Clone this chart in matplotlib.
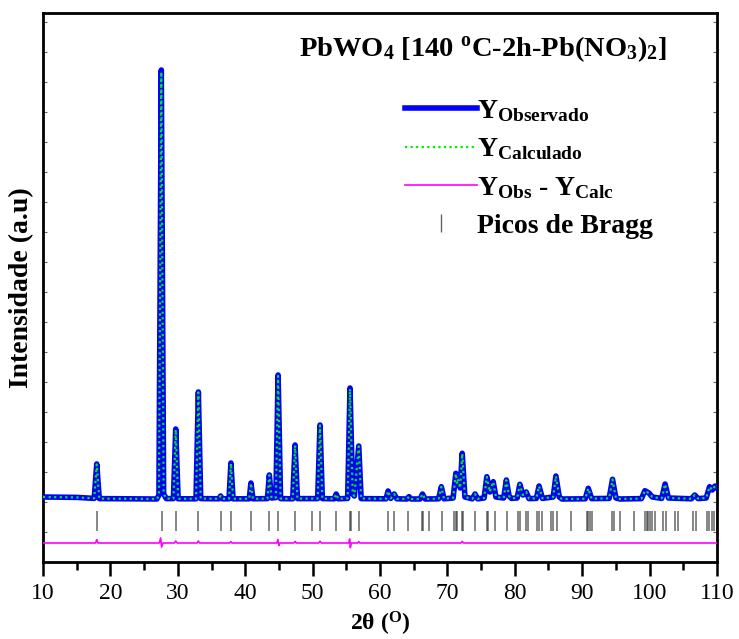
import matplotlib
matplotlib.use("Agg")
import matplotlib.pyplot as plt
from matplotlib.lines import Line2D
from matplotlib.ticker import MultipleLocator, NullFormatter

plt.rcParams['font.family'] = ['Liberation Serif', 'DejaVu Serif']
plt.rcParams['mathtext.fontset'] = 'custom'
plt.rcParams['mathtext.rm'] = 'Liberation Serif:bold'
plt.rcParams['mathtext.it'] = 'Liberation Serif:italic:bold'
plt.rcParams['mathtext.bf'] = 'Liberation Serif:bold'

# ---- data ----
two_theta_obs = [10, 15, 17.6, 17.97, 18.35, 26.9, 27.2, 27.55, 27.9, 28.3, 29.35, 29.69, 30.05,
                 32.7, 33.05, 33.4, 36.1, 36.35, 36.6, 37.6, 37.88, 38.2, 40.6, 40.85, 41.15,
                 43.3, 43.58, 43.9, 44.55, 44.88, 45.25, 47.05, 47.4, 47.75, 50.75, 51.1, 51.45,
                 53.2, 53.5, 53.8, 55.2, 55.55, 55.95, 56.2, 56.85, 57.2, 60.9, 61.2, 61.6, 62.1,
                 62.5, 64.0, 64.3, 64.6, 65.95, 66.3, 66.7, 68.7, 69.1, 69.5, 70.85, 71.25, 71.45,
                 71.6, 71.9, 72.2, 72.6, 73.7, 74.1, 74.5, 75.45, 75.85, 76.3, 76.8, 77.2, 78.35,
                 78.75, 79.15, 79.5, 80.35, 80.75, 81.2, 81.7, 82.1, 83.2, 83.6, 84.1, 85.7, 86.1,
                 86.6, 87.0, 90.45, 90.9, 91.4, 94.0, 94.5, 95.0, 95.6, 98.8, 99.3, 99.9, 100.4,
                 101.8, 102.3, 102.8, 106.2, 106.7, 107.2, 108.4, 108.9, 109.3, 109.7, 110]
y_observado = [250, 230, 180, 1900, 170, 150, 350, 21600, 400, 170, 170, 3650, 160,
               160, 5500, 170, 160, 300, 160, 160, 1950, 160, 160, 950, 160,
               170, 1350, 200, 220, 6350, 170, 160, 2850, 170, 170, 3850, 170,
               160, 400, 160, 180, 5700, 400, 300, 2800, 170, 160, 550, 180, 400,
               160, 150, 270, 150, 150, 400, 150, 160, 765, 160, 200, 1435, 900,
               1100, 700, 2435, 250, 160, 400, 160, 200, 1265, 500, 1015, 250, 200,
               1100, 300, 180, 200, 885, 350, 500, 170, 180, 800, 180, 250, 1300,
               250, 150, 160, 685, 170, 180, 1135, 200, 150, 170, 565, 450, 250,
               180, 900, 200, 160, 350, 170, 200, 765, 600, 800, 700]
y_calculado = [250, 230, 180, 1880, 170, 150, 350, 21500, 400, 170, 170, 3620, 160,
               160, 5480, 170, 160, 300, 160, 160, 1930, 160, 160, 940, 160,
               170, 1340, 200, 220, 6300, 170, 160, 2830, 170, 170, 3830, 170,
               160, 400, 160, 180, 5650, 400, 300, 2780, 170, 160, 550, 180, 400,
               160, 150, 270, 150, 150, 400, 150, 160, 760, 160, 200, 1420, 900,
               1100, 700, 2420, 250, 160, 400, 160, 200, 1260, 500, 1010, 250, 200,
               1090, 300, 180, 200, 880, 350, 500, 170, 180, 795, 180, 250, 1290,
               250, 150, 160, 680, 170, 180, 1130, 200, 150, 170, 560, 450, 250,
               180, 895, 200, 160, 350, 170, 200, 760, 600, 795, 700]

two_theta_diff = [10, 17.8, 17.97, 18.15, 27.25, 27.45, 27.6, 27.8, 29.5, 29.69, 29.9,
                  32.85, 33.05, 33.25, 37.7, 37.88, 38.05, 44.7, 44.85, 45.0, 45.15,
                  47.2, 47.4, 47.6, 50.9, 51.1, 51.3, 55.35, 55.5, 55.6, 55.75, 56.7,
                  56.85, 57.0, 72.0, 72.2, 72.4, 110]
y_obs_calc = [-2050, -2050, -1880, -2050, -2050, -1800, -2250, -2050, -2050, -1950, -2050,
              -2050, -1950, -2050, -2050, -1980, -2050, -2050, -1880, -2180, -2050,
              -2050, -1970, -2050, -2050, -1960, -2050, -2050, -1850, -2280, -2050, -2050,
              -1980, -2050, -2050, -1970, -2050, -2050]

picos_bragg = [17.97, 27.61, 29.69, 33.04, 36.37, 37.89, 40.91, 43.58, 44.87, 47.43, 49.96,
               51.10, 53.47, 55.55, 55.75, 56.93, 61.23, 62.08, 64.2, 66.18, 66.43, 67.32,
               69.15, 70.98, 71.28, 71.47, 72.12, 72.37, 74.1, 75.83, 76.07, 77.06, 78.8,
               80.52, 80.77, 81.66, 81.91, 83.34, 83.64, 83.99, 85.33, 85.62, 86.31, 88.29,
               90.67, 90.91, 91.16, 91.41, 94.47, 94.77, 95.61, 97.69, 99.32, 99.57, 99.82,
               100.06, 100.31, 100.8, 101.94, 102.43, 103.77, 104.17, 106.48, 106.88,
               108.47, 108.86, 109.21, 109.6, 109.96]

x_ticks = [10, 20, 30, 40, 50, 60, 70, 80, 90, 100, 110]
title_text = r"PbWO$_4$ [140 $^{\mathrm{o}}$C-2h-Pb(NO$_3$)$_2$]"
labels = [r"Y$_{\mathrm{Observado}}$", r"Y$_{\mathrm{Calculado}}$",
          r"Y$_{\mathrm{Obs}}$ - Y$_{\mathrm{Calc}}$", "Picos de Bragg"]

fig = plt.figure(figsize=(7.39, 6.39), dpi=100)
ax = fig.add_axes([0.0582, 0.1205, 0.9120, 0.8592])

ax.plot(two_theta_obs, y_observado, color='#0000ff', lw=4.0, solid_joinstyle='round', zorder=3)
ax.plot(two_theta_obs, y_calculado, color='#00ee00', lw=1.6, ls=(0, (1, 1.5)), zorder=4)
ax.plot(two_theta_diff, y_obs_calc, color='#ff00ff', lw=1.2, zorder=3)
ax.vlines(picos_bragg, -1440, -475, colors='0.2', lw=1.1, alpha=0.75, zorder=2)

ax.set_xlim(10, 110)
ax.set_ylim(-3000, 24450)
ax.set_xticks(x_ticks)
ax.xaxis.set_minor_locator(MultipleLocator(5))
ax.yaxis.set_major_locator(MultipleLocator(1500))
ax.yaxis.set_major_formatter(NullFormatter())
ax.tick_params(axis='x', which='major', direction='out', length=10, width=1.8,
               labelsize=17, pad=5)
ax.tick_params(axis='x', which='minor', direction='out', length=6, width=1.8)
ax.tick_params(axis='y', which='major', direction='in', length=3, width=0.8,
               left=True, right=True, colors='0.4')
for s in ax.spines.values():
    s.set_linewidth(2.0)

ax.set_xlabel("2θ ($^{\\mathrm{O}}$)", fontsize=17, fontweight='bold', labelpad=4)
ax.set_ylabel("Intensidade (a.u)", fontsize=20, fontweight='bold', labelpad=3)

ax.text(0.925, 0.935, title_text, transform=ax.transAxes, ha='right', va='center',
        fontsize=20.5, fontweight='bold')

handles = [Line2D([], [], color='#0000ff', lw=4.0),
           Line2D([], [], color='#00ee00', lw=1.6, ls=(0, (1, 1.5))),
           Line2D([], [], color='#ff00ff', lw=1.2),
           Line2D([], [], color='0.4', marker='|', ls='none', markersize=13)]
leg = ax.legend(handles, labels, loc='upper left', bbox_to_anchor=(0.52, 0.865),
                frameon=False, fontsize=20, handlelength=2.6, handletextpad=0.0,
                labelspacing=0.45, borderaxespad=0)
for t in leg.get_texts():
    t.set_fontweight('bold')

fig.savefig("out.png", dpi=100)
